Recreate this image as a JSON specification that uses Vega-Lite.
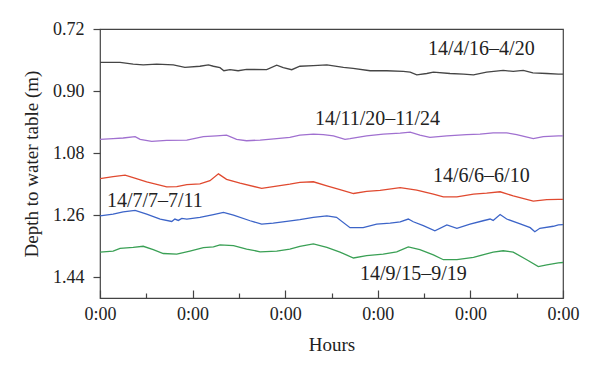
{
  "$schema": "https://vega.github.io/schema/vega-lite/v6.json",
  "autosize": "none",
  "width": 463,
  "height": 269,
  "padding": {"left": 100, "top": 29, "right": 37, "bottom": 74},
  "background": "white",
  "config": {
    "view": {"stroke": "#444", "strokeWidth": 1.2},
    "axis": {"grid": false, "domain": false, "labelFont": "Liberation Serif", "titleFont": "Liberation Serif", "labelFontSize": 18, "titleFontSize": 19, "titleFontWeight": "normal", "labelColor": "#222", "titleColor": "#222", "tickColor": "#444", "tickWidth": 1.2}
  },
  "layer": [
    {
      "data": {"values": [
        {"s":"a","h":0,"v":0.817},{"s":"a","h":5.2,"v":0.817},{"s":"a","h":8.6,"v":0.822},{"s":"a","h":11.2,"v":0.824},{"s":"a","h":14.7,"v":0.822},{"s":"a","h":19.0,"v":0.824},{"s":"a","h":22.0,"v":0.831},{"s":"a","h":25.9,"v":0.828},{"s":"a","h":28.1,"v":0.824},{"s":"a","h":29.4,"v":0.828},{"s":"a","h":31.1,"v":0.832},{"s":"a","h":32.1,"v":0.841},{"s":"a","h":33.7,"v":0.838},{"s":"a","h":35.8,"v":0.841},{"s":"a","h":38.0,"v":0.837},{"s":"a","h":43.2,"v":0.838},{"s":"a","h":45.8,"v":0.825},{"s":"a","h":47.5,"v":0.832},{"s":"a","h":49.7,"v":0.838},{"s":"a","h":51.8,"v":0.828},{"s":"a","h":55.3,"v":0.826},{"s":"a","h":58.8,"v":0.824},{"s":"a","h":63.1,"v":0.831},{"s":"a","h":65.6,"v":0.834},{"s":"a","h":70.0,"v":0.841},{"s":"a","h":74.3,"v":0.841},{"s":"a","h":78.6,"v":0.843},{"s":"a","h":80.4,"v":0.845},{"s":"a","h":82.1,"v":0.853},{"s":"a","h":84.7,"v":0.849},{"s":"a","h":86.4,"v":0.845},{"s":"a","h":90.7,"v":0.849},{"s":"a","h":94.2,"v":0.851},{"s":"a","h":96.8,"v":0.853},{"s":"a","h":100.2,"v":0.845},{"s":"a","h":104.5,"v":0.840},{"s":"a","h":107.1,"v":0.843},{"s":"a","h":109.7,"v":0.840},{"s":"a","h":112.2,"v":0.847},{"s":"a","h":115.8,"v":0.849},{"s":"a","h":118.8,"v":0.851},{"s":"a","h":120,"v":0.851},
        {"s":"b","h":0,"v":1.040},{"s":"b","h":3.4,"v":1.038},{"s":"b","h":6.0,"v":1.036},{"s":"b","h":9.1,"v":1.032},{"s":"b","h":10.4,"v":1.040},{"s":"b","h":13.4,"v":1.046},{"s":"b","h":17.3,"v":1.043},{"s":"b","h":22.5,"v":1.042},{"s":"b","h":26.8,"v":1.032},{"s":"b","h":30.2,"v":1.030},{"s":"b","h":32.8,"v":1.028},{"s":"b","h":35.4,"v":1.040},{"s":"b","h":38.0,"v":1.044},{"s":"b","h":41.5,"v":1.042},{"s":"b","h":45.8,"v":1.038},{"s":"b","h":49.2,"v":1.034},{"s":"b","h":51.8,"v":1.028},{"s":"b","h":55.3,"v":1.025},{"s":"b","h":57.9,"v":1.026},{"s":"b","h":60.5,"v":1.030},{"s":"b","h":63.5,"v":1.040},{"s":"b","h":64.8,"v":1.038},{"s":"b","h":69.1,"v":1.030},{"s":"b","h":73.4,"v":1.025},{"s":"b","h":77.8,"v":1.022},{"s":"b","h":80.4,"v":1.019},{"s":"b","h":82.9,"v":1.028},{"s":"b","h":85.5,"v":1.034},{"s":"b","h":89.9,"v":1.030},{"s":"b","h":95.0,"v":1.026},{"s":"b","h":98.5,"v":1.025},{"s":"b","h":101.9,"v":1.021},{"s":"b","h":105.4,"v":1.021},{"s":"b","h":108.0,"v":1.026},{"s":"b","h":112.3,"v":1.038},{"s":"b","h":114.9,"v":1.032},{"s":"b","h":118.8,"v":1.030},{"s":"b","h":120,"v":1.030},
        {"s":"c","h":0,"v":1.154},{"s":"c","h":3.4,"v":1.148},{"s":"c","h":6.5,"v":1.144},{"s":"c","h":8.6,"v":1.151},{"s":"c","h":12.1,"v":1.163},{"s":"c","h":17.3,"v":1.178},{"s":"c","h":19.9,"v":1.177},{"s":"c","h":22.5,"v":1.171},{"s":"c","h":25.9,"v":1.169},{"s":"c","h":28.5,"v":1.160},{"s":"c","h":30.7,"v":1.140},{"s":"c","h":32.8,"v":1.156},{"s":"c","h":36.3,"v":1.167},{"s":"c","h":41.9,"v":1.182},{"s":"c","h":44.9,"v":1.177},{"s":"c","h":49.2,"v":1.170},{"s":"c","h":51.8,"v":1.165},{"s":"c","h":55.3,"v":1.163},{"s":"c","h":58.8,"v":1.175},{"s":"c","h":62.2,"v":1.186},{"s":"c","h":65.7,"v":1.197},{"s":"c","h":69.1,"v":1.191},{"s":"c","h":72.6,"v":1.188},{"s":"c","h":77.8,"v":1.180},{"s":"c","h":82.1,"v":1.187},{"s":"c","h":86.4,"v":1.199},{"s":"c","h":89.0,"v":1.207},{"s":"c","h":92.5,"v":1.207},{"s":"c","h":96.8,"v":1.199},{"s":"c","h":100.2,"v":1.196},{"s":"c","h":103.7,"v":1.192},{"s":"c","h":107.1,"v":1.204},{"s":"c","h":112.3,"v":1.219},{"s":"c","h":115.8,"v":1.215},{"s":"c","h":118.8,"v":1.214},{"s":"c","h":120,"v":1.214},
        {"s":"d","h":0,"v":1.262},{"s":"d","h":3.4,"v":1.257},{"s":"d","h":6.0,"v":1.250},{"s":"d","h":9.1,"v":1.246},{"s":"d","h":12.1,"v":1.257},{"s":"d","h":15.6,"v":1.271},{"s":"d","h":18.6,"v":1.278},{"s":"d","h":19.4,"v":1.271},{"s":"d","h":20.3,"v":1.275},{"s":"d","h":21.2,"v":1.269},{"s":"d","h":22.5,"v":1.271},{"s":"d","h":25.9,"v":1.266},{"s":"d","h":29.4,"v":1.258},{"s":"d","h":32.0,"v":1.252},{"s":"d","h":34.6,"v":1.260},{"s":"d","h":38.9,"v":1.276},{"s":"d","h":41.9,"v":1.286},{"s":"d","h":44.9,"v":1.283},{"s":"d","h":48.4,"v":1.278},{"s":"d","h":51.8,"v":1.273},{"s":"d","h":55.3,"v":1.266},{"s":"d","h":58.8,"v":1.262},{"s":"d","h":61.3,"v":1.266},{"s":"d","h":64.8,"v":1.296},{"s":"d","h":68.2,"v":1.296},{"s":"d","h":71.7,"v":1.286},{"s":"d","h":75.2,"v":1.283},{"s":"d","h":77.8,"v":1.279},{"s":"d","h":79.9,"v":1.271},{"s":"d","h":81.2,"v":1.279},{"s":"d","h":83.8,"v":1.290},{"s":"d","h":86.8,"v":1.305},{"s":"d","h":89.9,"v":1.288},{"s":"d","h":92.5,"v":1.298},{"s":"d","h":95.9,"v":1.286},{"s":"d","h":99.3,"v":1.276},{"s":"d","h":101.1,"v":1.271},{"s":"d","h":101.9,"v":1.275},{"s":"d","h":103.7,"v":1.258},{"s":"d","h":105.4,"v":1.271},{"s":"d","h":108.9,"v":1.285},{"s":"d","h":111.5,"v":1.296},{"s":"d","h":112.7,"v":1.308},{"s":"d","h":114.0,"v":1.298},{"s":"d","h":117.5,"v":1.292},{"s":"d","h":118.8,"v":1.288},{"s":"d","h":120,"v":1.287},
        {"s":"e","h":0,"v":1.367},{"s":"e","h":3.4,"v":1.364},{"s":"e","h":5.2,"v":1.356},{"s":"e","h":8.6,"v":1.353},{"s":"e","h":11.2,"v":1.350},{"s":"e","h":13.8,"v":1.360},{"s":"e","h":16.4,"v":1.371},{"s":"e","h":19.9,"v":1.373},{"s":"e","h":23.3,"v":1.364},{"s":"e","h":26.8,"v":1.354},{"s":"e","h":29.4,"v":1.352},{"s":"e","h":31.1,"v":1.346},{"s":"e","h":34.6,"v":1.348},{"s":"e","h":38.0,"v":1.358},{"s":"e","h":41.5,"v":1.366},{"s":"e","h":45.8,"v":1.364},{"s":"e","h":49.2,"v":1.358},{"s":"e","h":51.8,"v":1.350},{"s":"e","h":55.3,"v":1.343},{"s":"e","h":58.8,"v":1.353},{"s":"e","h":62.2,"v":1.367},{"s":"e","h":65.7,"v":1.384},{"s":"e","h":69.1,"v":1.377},{"s":"e","h":73.4,"v":1.373},{"s":"e","h":76.9,"v":1.366},{"s":"e","h":79.9,"v":1.352},{"s":"e","h":82.9,"v":1.360},{"s":"e","h":86.4,"v":1.375},{"s":"e","h":89.0,"v":1.389},{"s":"e","h":92.5,"v":1.389},{"s":"e","h":96.8,"v":1.382},{"s":"e","h":101.9,"v":1.367},{"s":"e","h":104.5,"v":1.363},{"s":"e","h":107.1,"v":1.367},{"s":"e","h":110.6,"v":1.389},{"s":"e","h":113.6,"v":1.409},{"s":"e","h":115.8,"v":1.404},{"s":"e","h":118.8,"v":1.398},{"s":"e","h":120,"v":1.397}
      ]},
      "mark": {"type": "line", "strokeWidth": 1.3, "clip": true},
      "encoding": {
        "x": {"field": "h", "type": "quantitative", "title": "Hours",
          "scale": {"domain": [0, 120], "nice": false, "zero": false},
          "axis": {"values": [0, 12, 24, 36, 48, 60, 72, 84, 96, 108, 120],
            "labelExpr": "datum.value % 24 === 0 ? '0:00' : ''",
            "tickSize": {"condition": {"test": "datum.value % 24 === 0", "value": -8}, "value": -5},
            "labelPadding": 15, "titlePadding": 12, "labelFlush": false}},
        "y": {"field": "v", "type": "quantitative", "title": "Depth to water table (m)",
          "scale": {"domain": [0.72, 1.5], "reverse": true, "nice": false, "zero": false},
          "axis": {"values": [0.72, 0.9, 1.08, 1.26, 1.44], "format": ".2f", "tickSize": 7, "labelPadding": 9, "titlePadding": 11}},
        "color": {"field": "s", "type": "nominal", "legend": null,
          "scale": {"domain": ["a", "b", "c", "d", "e"], "range": ["#454545", "#a070d0", "#e04a30", "#3c64c8", "#3aa055"]}},
        "detail": {"field": "s"}
      }
    },
    {
      "data": {"values": [
        {"label": "14/4/16–4/20", "h": 85.0, "v": 0.777},
        {"label": "14/11/20–11/24", "h": 55.7, "v": 0.982},
        {"label": "14/6/6–6/10", "h": 86.3, "v": 1.147},
        {"label": "14/7/7–7/11", "h": 1.8, "v": 1.219},
        {"label": "14/9/15–9/19", "h": 67.4, "v": 1.430}
      ]},
      "mark": {"type": "text", "align": "left", "baseline": "middle", "font": "Liberation Serif", "fontSize": 20, "color": "#222"},
      "encoding": {
        "x": {"field": "h", "type": "quantitative"},
        "y": {"field": "v", "type": "quantitative"},
        "text": {"field": "label"}
      }
    }
  ]
}
